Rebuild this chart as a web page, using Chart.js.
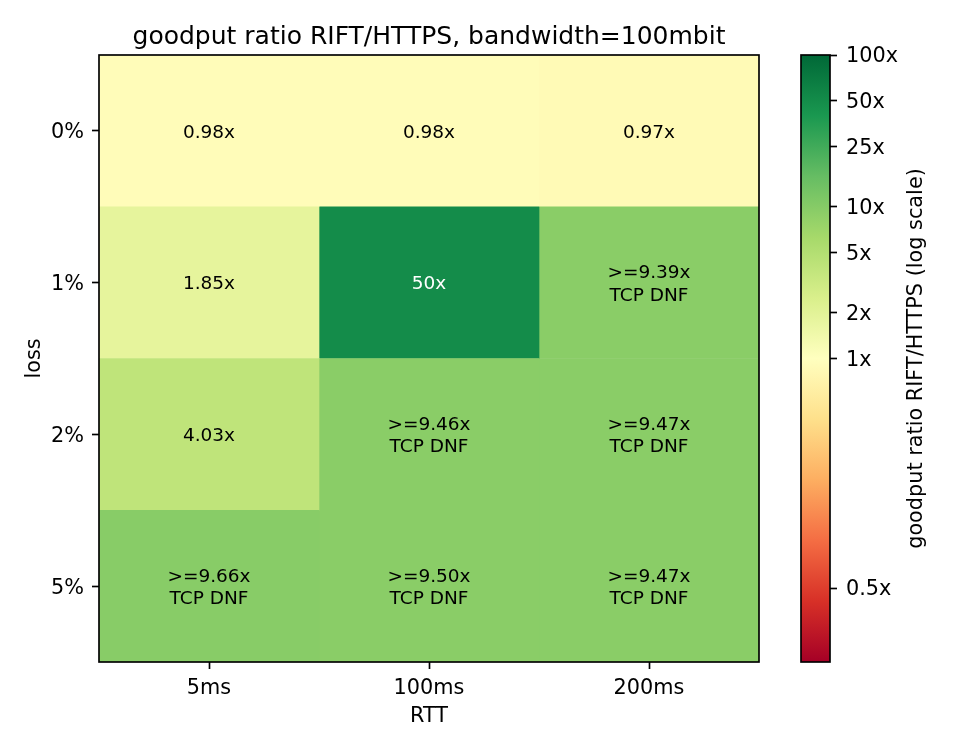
<!DOCTYPE html>
<html>
<head>
<meta charset="utf-8">
<script src="https://cdn.jsdelivr.net/npm/chart.js@4.4.0/dist/chart.umd.min.js"></script>
<style>
  body { margin: 0; background: #fff; }
  #wrap { position: relative; width: 960px; height: 750px; }
  #heat { position: absolute; left: 0; top: 0; }
  #bar { position: absolute; left: 760px; top: 0; }
</style>
</head>
<body>
<div id="wrap">
  <canvas id="heat" width="960" height="750"></canvas>
  <canvas id="bar" width="200" height="750"></canvas>
</div>
<script>
let rtt = ["5ms", "100ms", "200ms"];
let loss = ["0%", "1%", "2%", "5%"];
// goodput ratio per loss row, per rtt column
let ratio = [
    [0.98, 0.98, 0.97],
    [1.85, 50, 9.39],
    [4.03, 9.46, 9.47],
    [9.66, 9.50, 9.47]
];
let tcpDnf = [
    [false, false, false],
    [false, false, true],
    [false, true, true],
    [true, true, true]
];
let cbValues = [100, 50, 25, 10, 5, 2, 1, 0.5];
let cbLabels = ["100x", "50x", "25x", "10x", "5x", "2x", "1x", "0.5x"];
let vmin = 0.4, vmax = 100;

let rdylgn = ['#a50026','#d73027','#f46d43','#fdae61','#fee08b','#ffffbf','#d9ef8b','#a6d96a','#66bd63','#1a9850','#006837'];
let lw = 1.67;
let fontFamily = "'DejaVu Sans', sans-serif";

Chart.defaults.font.family = fontFamily;
Chart.defaults.color = '#000';

function hexToRgb(h) {
    return [parseInt(h.slice(1, 3), 16), parseInt(h.slice(3, 5), 16), parseInt(h.slice(5, 7), 16)];
}

function cmap(t) {
    t = Math.max(0, Math.min(1, t));
    let p = t * (rdylgn.length - 1);
    let i = Math.min(Math.floor(p), rdylgn.length - 2);
    let f = p - i;
    let a = hexToRgb(rdylgn[i]), b = hexToRgb(rdylgn[i + 1]);
    let c = a.map((v, k) => Math.round(v + (b[k] - v) * f));
    return `rgb(${c[0]},${c[1]},${c[2]})`;
}

// two slope log norm, 1x sits in the middle
function norm(v) {
    if (v >= 1) return 0.5 + 0.5 * Math.log10(v) / Math.log10(vmax);
    return 0.5 - 0.5 * Math.log10(v) / Math.log10(vmin);
}

function fmt(v) {
    return Number.isInteger(v) ? v + "x" : v.toFixed(2) + "x";
}

let framePlugin = {
    id: 'frame',
    afterDraw(chart) {
        let a = chart.chartArea, ctx = chart.ctx;
        ctx.save();
        ctx.strokeStyle = '#000';
        ctx.lineWidth = lw;
        ctx.strokeRect(a.left, a.top, a.right - a.left, a.bottom - a.top);
        ctx.restore();
    }
};

let cellTextPlugin = {
    id: 'cellText',
    afterDatasetsDraw(chart) {
        let ctx = chart.ctx;
        ctx.save();
        ctx.font = `18.5px ${fontFamily}`;
        ctx.textAlign = 'center';
        ctx.textBaseline = 'middle';
        chart.data.datasets.forEach((ds, c) => {
            chart.getDatasetMeta(c).data.forEach((bar, r) => {
                let v = ratio[r][c];
                let lines = tcpDnf[r][c] ? [">=" + fmt(v), "TCP DNF"] : [fmt(v)];
                let cx = (bar.x + bar.base) / 2;
                let cy = bar.y + 2;
                ctx.fillStyle = v >= 25 ? '#fff' : '#000';
                let lh = 22.5;
                lines.forEach((t, k) => {
                    ctx.fillText(t, cx, cy + (k - (lines.length - 1) / 2) * lh);
                });
            });
        });
        ctx.restore();
    }
};

let heatChart = new Chart(document.getElementById('heat'), {
    type: 'bar',
    data: {
        labels: loss,
        datasets: rtt.map((r, c) => ({
            label: r,
            data: loss.map(() => [c - 0.5, c + 0.5]),
            backgroundColor: loss.map((l, i) => cmap(norm(ratio[i][c]))),
            borderWidth: 0,
            barPercentage: 1,
            categoryPercentage: 1,
            grouped: false
        }))
    },
    options: {
        indexAxis: 'y',
        responsive: false,
        animation: false,
        devicePixelRatio: 1,
        layout: { padding: { left: 0, right: 201, top: 0, bottom: 0 } },
        plugins: {
            legend: { display: false },
            tooltip: { enabled: false },
            title: {
                display: true,
                text: 'goodput ratio RIFT/HTTPS, bandwidth=100mbit',
                font: { size: 25, weight: 'normal' },
                color: '#000',
                fullSize: false,
                padding: { top: 22, bottom: 3 }
            }
        },
        scales: {
            x: {
                type: 'linear',
                min: -0.5,
                max: 2.5,
                afterBuildTicks: s => { s.ticks = rtt.map((r, i) => ({ value: i })); },
                afterFit: s => { s.height = 88; },
                ticks: {
                    callback: v => rtt[v],
                    font: { size: 20.8 },
                    color: '#000',
                    padding: 7,
                    autoSkip: false,
                    maxRotation: 0
                },
                grid: { drawOnChartArea: false, tickLength: 7, tickWidth: lw, tickColor: '#000' },
                border: { display: false },
                title: { display: true, text: 'RTT', font: { size: 20.8 }, color: '#000', padding: { top: 0, bottom: 21 } }
            },
            y: {
                afterFit: s => { s.width = 99; },
                ticks: { font: { size: 20.8 }, color: '#000', padding: 8, labelOffset: 2 },
                grid: { offset: false, drawOnChartArea: false, tickLength: 7, tickWidth: lw, tickColor: '#000' },
                border: { display: false },
                title: { display: true, text: 'loss', font: { size: 20.8 }, color: '#000', padding: { top: 22, bottom: 0 } }
            }
        }
    },
    plugins: [framePlugin, cellTextPlugin]
});

let cbLabelPlugin = {
    id: 'cbLabel',
    afterDraw(chart) {
        let a = chart.chartArea, ctx = chart.ctx;
        ctx.save();
        ctx.translate(157, (a.top + a.bottom) / 2);
        ctx.rotate(-Math.PI / 2);
        ctx.font = `20.8px ${fontFamily}`;
        ctx.fillStyle = '#000';
        ctx.textAlign = 'center';
        ctx.textBaseline = 'middle';
        ctx.fillText('goodput ratio RIFT/HTTPS (log scale)', 0, 0);
        ctx.restore();
    }
};

let barChart = new Chart(document.getElementById('bar'), {
    type: 'bar',
    data: {
        labels: [''],
        datasets: [{
            data: [[0, 1]],
            backgroundColor: ctx => {
                let a = ctx.chart.chartArea;
                if (!a) return '#ffffbf';
                let g = ctx.chart.ctx.createLinearGradient(0, a.bottom, 0, a.top);
                rdylgn.forEach((c, i) => g.addColorStop(i / (rdylgn.length - 1), c));
                return g;
            },
            borderWidth: 0,
            barPercentage: 1,
            categoryPercentage: 1
        }]
    },
    options: {
        responsive: false,
        animation: false,
        devicePixelRatio: 1,
        layout: { padding: { left: 41, right: 0, top: 55, bottom: 88 } },
        plugins: { legend: { display: false }, tooltip: { enabled: false } },
        scales: {
            x: { display: false },
            y: {
                position: 'right',
                min: 0,
                max: 1,
                afterBuildTicks: s => { s.ticks = cbValues.map(v => ({ value: norm(v) })); },
                afterFit: s => { s.width = 130; },
                ticks: {
                    callback: (v, i) => cbLabels[i],
                    font: { size: 20.8 },
                    color: '#000',
                    padding: 9,
                    autoSkip: false,
                    labelOffset: 2
                },
                grid: { drawOnChartArea: false, tickLength: 7, tickWidth: lw, tickColor: '#000' },
                border: { display: false }
            }
        }
    },
    plugins: [framePlugin, cbLabelPlugin]
});
</script>
</body>
</html>
